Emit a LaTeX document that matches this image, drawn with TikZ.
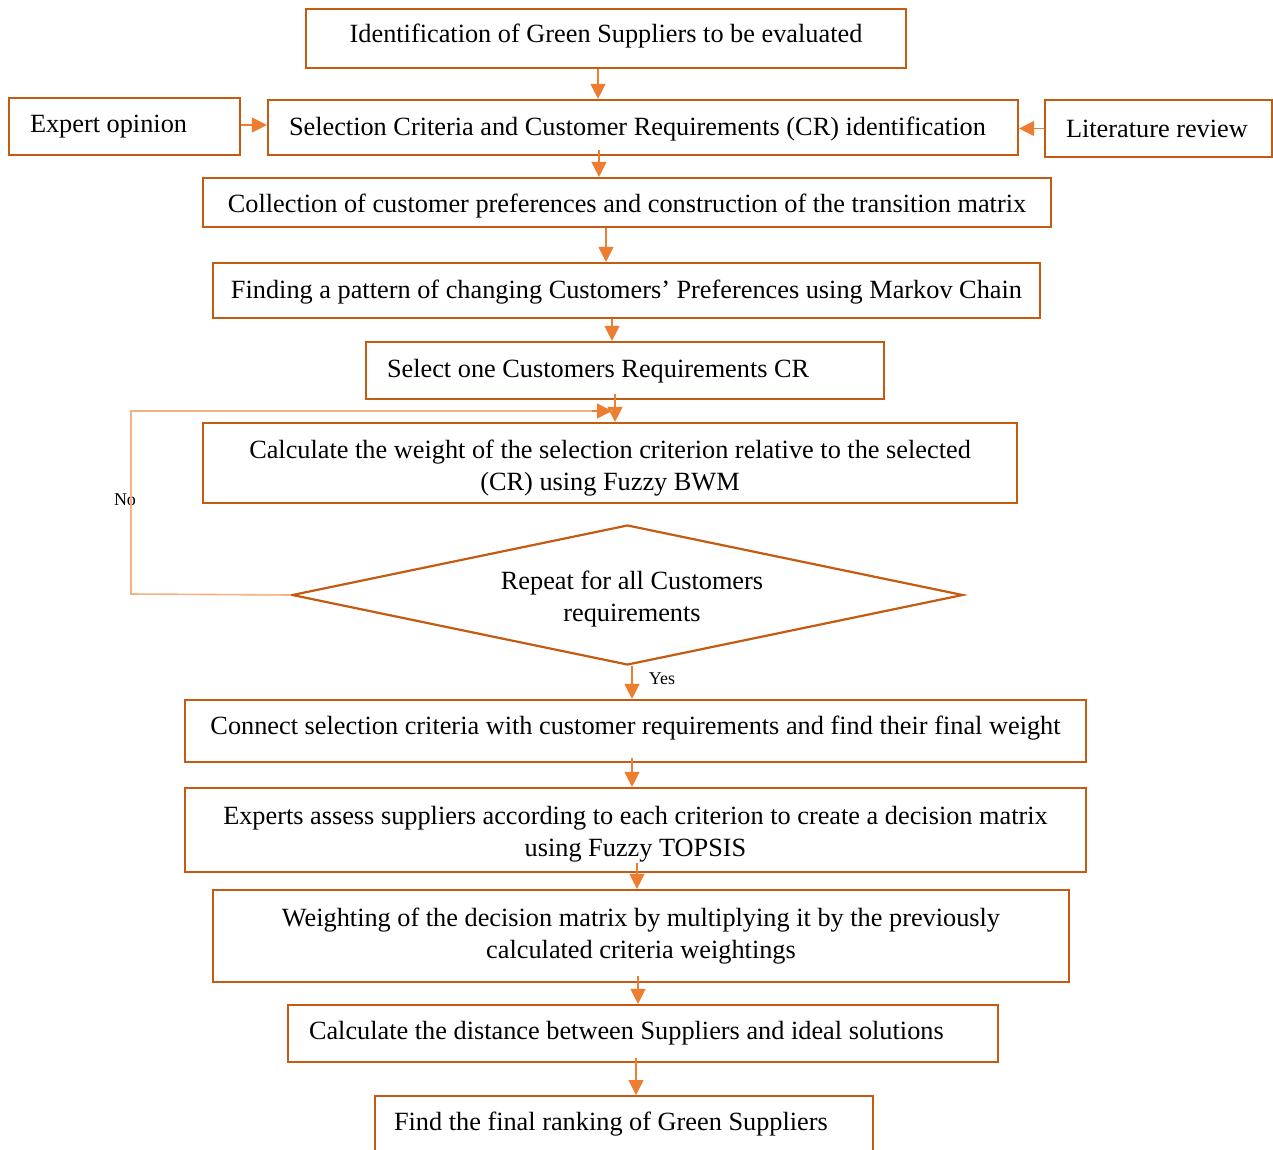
\documentclass[tikz,border=0pt]{standalone}
\usepackage{fontspec}
\setmainfont{Liberation Serif}
\usetikzlibrary{arrows.meta,shapes.geometric}
\definecolor{boxc}{HTML}{C55A11}
\definecolor{arrc}{HTML}{ED7D31}
\definecolor{loopc}{HTML}{F4B183}
\tikzset{
  box/.style={draw=boxc, line width=2.2pt, rectangle, inner sep=0pt, align=center,
    font=\fontsize{26.3}{32}\selectfont},
  lbox/.style={box, align=flush left},
  arr/.style={draw=arrc, line width=1.3pt, -{Triangle[length=15pt,width=15pt]}},
  loopline/.style={draw=loopc, line width=1.6pt},
  small/.style={font=\fontsize{18}{22}\selectfont, inner sep=0pt}
}
\begin{document}
\begin{tikzpicture}[x=1pt,y=-1pt]
\useasboundingbox (0,0) rectangle (1273,1149);
\clip (0,0) rectangle (1273,1149);
\fill[white] (0,0) rectangle (1273,1149);

\node[box, minimum width=600pt, minimum height=59pt] (n1) at (606,38.5)
  {\rule[-10pt]{0pt}{0pt}Identification of Green Suppliers to be evaluated};
\node[lbox, minimum width=231pt, minimum height=57pt, text width=189pt, inner xsep=21pt] (exp) at (124.5,126.5)
  {Expert opinion};
\node[lbox, minimum width=750pt, minimum height=55pt, text width=708pt, inner xsep=21pt] (n3) at (643,127.5)
  {\rule{0pt}{22pt}Selection Criteria and Customer Requirements (CR) identification};
\node[lbox, minimum width=227pt, minimum height=57pt, text width=185pt, inner xsep=21pt] (lit) at (1158.5,128.5)
  {Literature review};
\node[box, minimum width=848pt, minimum height=49pt] (n5) at (627,202.5)
  {\rule{0pt}{26pt}Collection of customer preferences and construction of the transition matrix};
\node[box, minimum width=827pt, minimum height=55pt] (n6) at (626.5,290.5)
  {\rule{0pt}{22pt}Finding a pattern of changing Customers’ Preferences using Markov Chain};
\node[lbox, minimum width=518pt, minimum height=57pt, text width=476pt, inner xsep=21pt] (n7) at (625,370.5)
  {\rule{0pt}{20pt}Select one Customers Requirements CR};
\node[box, minimum width=814pt, minimum height=80pt] (n8) at (610,463)
  {\rule{0pt}{28pt}Calculate the weight of the selection criterion relative to the selected\\(CR) using Fuzzy BWM};
\node[box, diamond, aspect=4.8, minimum width=671pt, minimum height=140pt] (dia) at (627.5,595)
  {\rule{0pt}{26pt}\hspace*{9pt}Repeat for all Customers\\\hspace*{9pt}requirements};
\node[box, minimum width=901pt, minimum height=62pt] (n10) at (635.5,731)
  {Connect selection criteria with customer requirements and find their final weight\rule[-12pt]{0pt}{0pt}};
\node[box, minimum width=901pt, minimum height=84pt] (n11) at (635.5,830)
  {\rule{0pt}{26pt}Experts assess suppliers according to each criterion to create a decision matrix\\using Fuzzy TOPSIS};
\node[box, minimum width=856pt, minimum height=92pt] (n12) at (641,936)
  {Weighting of the decision matrix by multiplying it by the previously\\calculated criteria weightings};
\node[lbox, minimum width=710pt, minimum height=57pt, text width=668pt, inner xsep=21pt] (n13) at (643,1033.5)
  {Calculate the distance between Suppliers and ideal solutions};
\node[lbox, minimum width=498pt, minimum height=56pt, text width=460pt, inner xsep=19pt, anchor=north] (n14) at (624,1095)
  {Find the final ranking of Green Suppliers};

\coordinate (lc1) at (131,594);
\coordinate (lc2) at (131,411);
\coordinate (lc3) at (612,411);

\node[small] (no) at (125,500) {No};
\node[small] (yes) at (662,679) {Yes};

% connectors
\draw[arr] ([xshift=-8pt]n1.south) -- ([xshift=-8pt]n1.south |- n3.north);
\draw[arr] (exp.east |- 0,125) -- (n3.west |- 0,125);
\draw[arr] (lit.west) -- (lit.west -| n3.east);
\draw[arr] ([xshift=-44pt,yshift=6pt]n3.south) -- ([xshift=-44pt]n3.south |- n5.north);
\draw[arr] ([xshift=-21pt]n5.south) -- ([xshift=-21pt]n5.south |- n6.north);
\draw[arr] ([xshift=-14.5pt]n6.south) -- ([xshift=-14.5pt]n6.south |- n7.north);
\draw[arr] ([xshift=-10pt,yshift=6pt]n7.south) -- ([xshift=-10pt]n7.south |- n8.north);
\draw[loopline] (dia.west) -- (lc1) -- (lc2) -- (lc3);
\draw[arr] ([xshift=-20pt]lc3) -- (lc3);
\draw[arr] ([xshift=4.5pt]dia.south) -- ([xshift=4.5pt]dia.south |- n10.north);
\draw[arr] ([xshift=-3.5pt,yshift=5pt]n10.south) -- ([xshift=-3.5pt]n10.south |- n11.north);
\draw[arr] ([xshift=1.5pt,yshift=10pt]n11.south) -- ([xshift=1.5pt]n11.south |- n12.north);
\draw[arr] ([xshift=-3pt,yshift=7pt]n12.south) -- ([xshift=-3pt]n12.south |- n13.north);
\draw[arr] ([xshift=-7pt,yshift=5pt]n13.south) -- ([xshift=-7pt]n13.south |- n14.north);
\end{tikzpicture}
\end{document}
